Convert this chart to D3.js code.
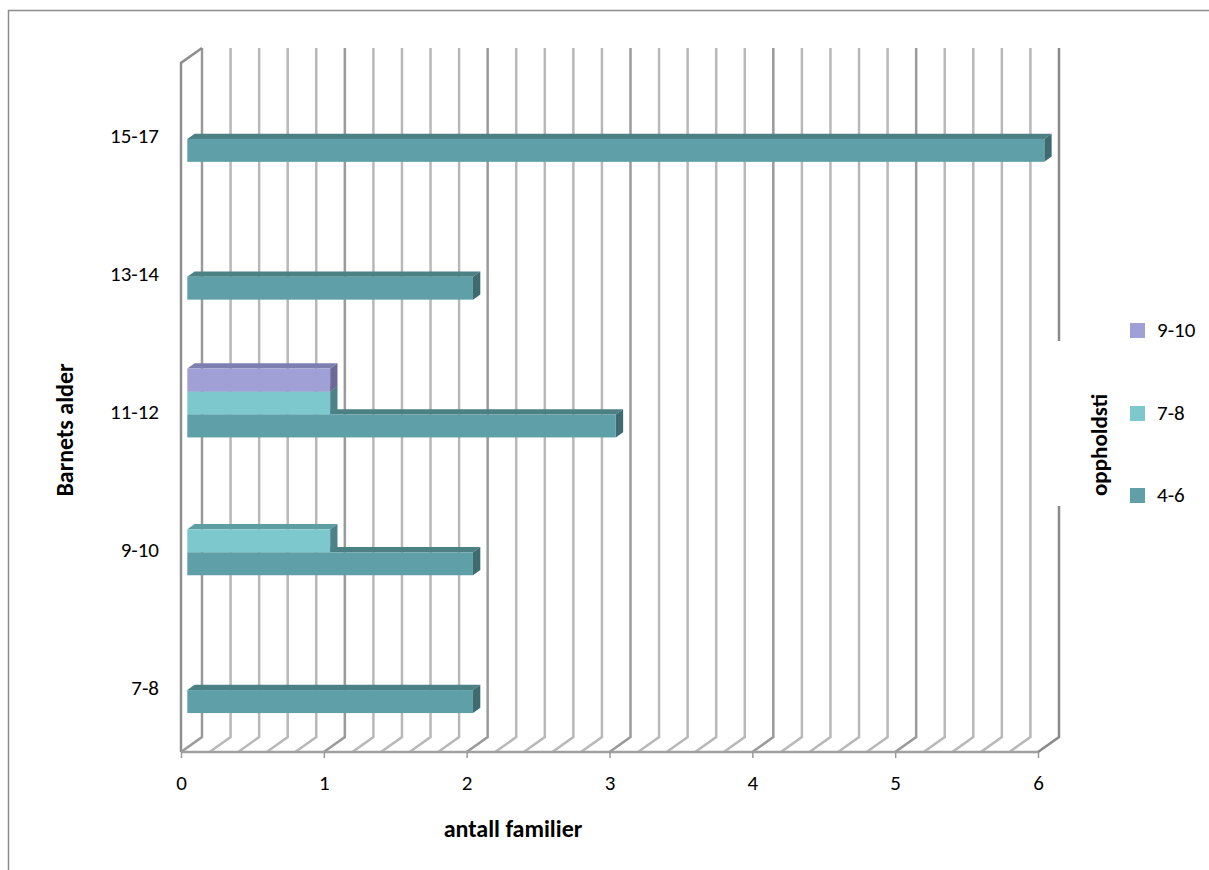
<!DOCTYPE html>
<html>
<head>
<meta charset="utf-8">
<script src="https://cdn.jsdelivr.net/npm/d3@7"></script>
<style>
  body { margin: 0; background: #fff; }
  svg { display: block; font-family: Carlito, Lato, sans-serif; }
</style>
</head>
<body>
<div id="chart"></div>
<script>
// Kategorien (Barnets alder), von oben nach unten
const categories = ['15-17', '13-14', '11-12', '9-10', '7-8']
// Serien (oppholdstid), von oben nach unten innerhalb einer Kategorie
const seriesNames = ['9-10', '7-8', '4-6']
const values_4_6 = [6, 2, 3, 2, 2]
const values_7_8 = [0, 0, 1, 1, 0]
const values_9_10 = [0, 0, 1, 0, 0]
const xTicks = [0, 1, 2, 3, 4, 5, 6]

const seriesValues = { '4-6': values_4_6, '7-8': values_7_8, '9-10': values_9_10 }
const colors = {
  '9-10': { front: '#a09fd6', top: '#7f7eb0', side: '#6c6b98' },
  '7-8': { front: '#7cc8cc', top: '#5c9ea2', side: '#4d8286' },
  '4-6': { front: '#5fa0a8', top: '#4b8085', side: '#3e6b70' }
}

const width = 1209
const height = 870
const front = { left: 181, right: 1038, top: 63, bottom: 752 }
const depth = { dx: 21, dy: -15 }
const barFront = 0.3
const barBack = 0.65

const svg = d3.select('#chart').append('svg')
  .attr('width', width)
  .attr('height', height)

// Rahmen
svg.append('rect')
  .attr('x', 8.5).attr('y', 10.5)
  .attr('width', 1220).attr('height', 880)
  .attr('fill', 'none')
  .attr('stroke', '#8c8c8c')
  .attr('stroke-width', 1.5)

const x = d3.scaleLinear()
  .domain([0, 6])
  .range([front.left, front.right])

const y = d3.scaleBand()
  .domain(categories)
  .range([front.top, front.bottom])

const ySer = d3.scaleBand()
  .domain(seriesNames)
  .range([0, y.bandwidth()])
  .paddingOuter(1.5)

// Gitter: Rueckwand + Boden
const grid = svg.append('g')
const minor = d3.range(0, 30).map(i => i / 5)
minor.forEach(v => {
  const major = Math.abs(v - Math.round(v)) < 1e-6
  const xf = x(v)
  const xb = xf + depth.dx
  grid.append('path')
    .attr('d', `M${xf},${front.bottom} L${xb},${front.bottom + depth.dy} L${xb},${front.top + depth.dy}`)
    .attr('fill', 'none')
    .attr('stroke', major ? '#9a9a9a' : '#b8b8b8')
    .attr('stroke-width', 2.5)
})

// Rechte Kante
grid.append('path')
  .attr('d', `M${x(6)},${front.bottom} L${x(6) + depth.dx},${front.bottom + depth.dy} L${x(6) + depth.dx},${front.top + depth.dy}`)
  .attr('fill', 'none')
  .attr('stroke', '#8a8a8a')
  .attr('stroke-width', 2.5)

// Linke Seitenwand
grid.append('path')
  .attr('d', `M${x(0)},${front.bottom} L${x(0)},${front.top} L${x(0) + depth.dx},${front.top + depth.dy}`)
  .attr('fill', 'none')
  .attr('stroke', '#8e8e8e')
  .attr('stroke-width', 2.5)

// Vordere Bodenkante
grid.append('line')
  .attr('x1', x(0)).attr('x2', x(6))
  .attr('y1', front.bottom).attr('y2', front.bottom)
  .attr('stroke', '#a0a0a0')
  .attr('stroke-width', 2.5)

// x-Achse
const xAxis = g => g
  .attr('transform', `translate(0,${front.bottom})`)
  .call(d3.axisBottom(x).tickValues(xTicks).tickFormat(d3.format('d')).tickSize(6).tickPadding(17))
  .call(g => g.select('.domain').remove())
  .call(g => g.selectAll('.tick line').attr('stroke', '#9a9a9a').attr('stroke-width', 1.5))
  .call(g => g.selectAll('.tick text')
    .attr('font-size', 21)
    .attr('fill', '#000')
    .attr('font-family', 'Carlito, Lato, sans-serif'))

svg.append('g').call(xAxis)

// y-Achse (Kategorien)
const yAxis = g => g
  .attr('transform', `translate(159,0)`)
  .call(d3.axisLeft(y).tickSize(0).tickPadding(0))
  .call(g => g.select('.domain').remove())
  .call(g => g.selectAll('.tick text')
    .attr('font-size', 21)
    .attr('fill', '#000')
    .attr('dy', '0.55em')
    .attr('font-family', 'Carlito, Lato, sans-serif'))

svg.append('g').call(yAxis)

// Balken
const fdx = depth.dx * barFront
const fdy = depth.dy * barFront
const bdx = depth.dx * barBack
const bdy = depth.dy * barBack

const bars = []
;['4-6', '7-8', '9-10'].forEach(s => {
  categories.forEach((c, i) => {
    const v = seriesValues[s][i]
    if (v > 0) bars.push({ series: s, category: c, value: v })
  })
})

const barG = svg.append('g')
  .selectAll('g')
  .data(bars)
  .join('g')

barG.each(function (d) {
  const g = d3.select(this)
  const x0 = x(0) + fdx
  const x1 = x(d.value) + fdx
  const y0 = y(d.category) + ySer(d.series) + fdy
  const h = ySer.bandwidth()
  const ddx = bdx - fdx
  const ddy = bdy - fdy
  const col = colors[d.series]
  g.append('path')
    .attr('d', `M${x0},${y0} L${x0 + ddx},${y0 + ddy} L${x1 + ddx},${y0 + ddy} L${x1},${y0} Z`)
    .attr('fill', col.top)
  g.append('path')
    .attr('d', `M${x1},${y0} L${x1 + ddx},${y0 + ddy} L${x1 + ddx},${y0 + h + ddy} L${x1},${y0 + h} Z`)
    .attr('fill', col.side)
  g.append('rect')
    .attr('x', x0).attr('y', y0)
    .attr('width', x1 - x0).attr('height', h)
    .attr('fill', col.front)
})

// Achsentitel
svg.append('text')
  .attr('x', 513).attr('y', 837)
  .attr('text-anchor', 'middle')
  .attr('font-size', 24)
  .attr('font-weight', 'bold')
  .text('antall familier')

svg.append('text')
  .attr('transform', 'translate(73,430) rotate(-90)')
  .attr('text-anchor', 'middle')
  .attr('font-size', 24)
  .attr('font-weight', 'bold')
  .text('Barnets alder')

// Legende
svg.append('rect')
  .attr('x', 1056).attr('y', 341)
  .attr('width', 30).attr('height', 165)
  .attr('fill', '#fff')

svg.append('text')
  .attr('transform', 'translate(1107,496) rotate(-90)')
  .attr('text-anchor', 'start')
  .attr('font-size', 23)
  .attr('font-weight', 'bold')
  .text('oppholdsti')

const legendY = { '9-10': 330, '7-8': 413, '4-6': 495 }
const legend = svg.append('g')
  .selectAll('g')
  .data(seriesNames)
  .join('g')
  .attr('transform', d => `translate(1130,${legendY[d]})`)

legend.append('rect')
  .attr('x', 0).attr('y', -7)
  .attr('width', 15).attr('height', 15)
  .attr('fill', d => colors[d].front)

legend.append('text')
  .attr('x', 27).attr('y', 0)
  .attr('dy', '0.35em')
  .attr('font-size', 21)
  .text(d => d)
</script>
</body>
</html>
